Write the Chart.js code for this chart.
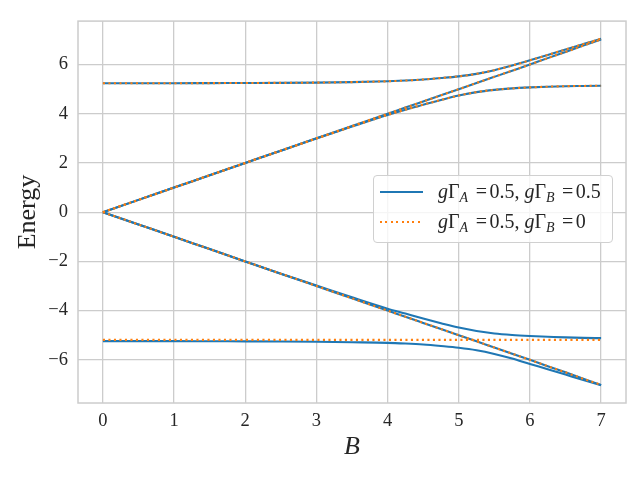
<!DOCTYPE html>
<html>
<head>
<meta charset="utf-8">
<script src="https://cdn.jsdelivr.net/npm/chart.js@4.4.1/dist/chart.umd.min.js"></script>
<style>
  body { margin: 0; background: #fff; }
  #wrap { position: relative; width: 640px; height: 480px; }
  #legend {
    position: absolute; left: 373px; top: 175px; width: 238px; height: 66px;
    border: 1px solid #d0d0d0; border-radius: 4px; background: rgba(255,255,255,0.8);
    font-family: 'Liberation Serif', 'Times New Roman', serif; font-size: 20px; color: #262626;
  }
  .swatch { position: absolute; left: 6px; width: 43px; height: 2px; }
  .solid { background: #1f77b4; }
  .dotted { background: repeating-linear-gradient(to right, #ff7f0e 0 2px, transparent 2px 5.4px); }
  .label { position: absolute; left: 64px; height: 22px; line-height: 22px; white-space: nowrap; }
  .sub { font-size: 0.7em; font-style: italic; position: relative; top: 0.25em; }
  .eq { margin: 0 0.12em 0 0.38em; }
</style>
</head>
<body>
<div id="wrap">
  <canvas id="energyChart" width="640" height="480"></canvas>
  <div id="legend">
    <div class="swatch solid" style="top: 15px;"></div>
    <div class="label" style="top: 4px;"><i>g</i>Γ<span class="sub">A</span><span class="eq">=</span>0.5, <i>g</i>Γ<span class="sub">B</span><span class="eq">=</span>0.5</div>
    <div class="swatch dotted" style="top: 45px;"></div>
    <div class="label" style="top: 34px;"><i>g</i>Γ<span class="sub">A</span><span class="eq">=</span>0.5, <i>g</i>Γ<span class="sub">B</span><span class="eq">=</span>0</div>
  </div>
</div>
<script>
const bField = [0, 0.5, 1, 1.5, 2, 2.5, 3, 3.5, 4, 4.25, 4.5, 4.75, 5, 5.25, 5.5, 5.75, 6, 6.25, 6.5, 6.75, 7];

// upper levels (same for both couplings)
const upperFlat = [5.24, 5.24, 5.24, 5.245, 5.25, 5.255, 5.265, 5.285, 5.32, 5.35, 5.39, 5.45, 5.52, 5.62, 5.77, 5.96, 6.17, 6.39, 6.61, 6.83, 7.05];
const upperLine = [0, 0.5, 1, 1.5, 2, 2.5, 3, 3.5, 4, 4.25, 4.5, 4.75, 5, 5.25, 5.5, 5.75, 6, 6.26, 6.51, 6.77, 7.02];
const upperBend = [0, 0.5, 1, 1.5, 2, 2.5, 2.99, 3.48, 3.95, 4.16, 4.37, 4.56, 4.74, 4.88, 4.97, 5.03, 5.07, 5.10, 5.12, 5.13, 5.14];

// lower levels
const lowerLine = [0, -0.5, -1, -1.5, -2, -2.5, -3, -3.5, -4, -4.25, -4.5, -4.75, -5, -5.25, -5.5, -5.75, -6, -6.26, -6.51, -6.77, -7.02];
const lowerBend = [0, -0.5, -1, -1.5, -2, -2.5, -2.98, -3.46, -3.92, -4.12, -4.32, -4.51, -4.69, -4.83, -4.93, -4.99, -5.03, -5.06, -5.09, -5.11, -5.12];
const lowerFlatBlue = [-5.24, -5.24, -5.24, -5.245, -5.25, -5.255, -5.265, -5.285, -5.31, -5.34, -5.38, -5.44, -5.51, -5.61, -5.76, -5.95, -6.17, -6.38, -6.60, -6.82, -7.03];
const lowerFlatOrange = [-5.19, -5.19, -5.19, -5.19, -5.19, -5.19, -5.19, -5.19, -5.19, -5.19, -5.19, -5.19, -5.19, -5.19, -5.19, -5.19, -5.19, -5.19, -5.19, -5.19, -5.19];

const xTicks = [0, 1, 2, 3, 4, 5, 6, 7];
const yTicks = [-6, -4, -2, 0, 2, 4, 6];

const blueCurves = [upperFlat, upperLine, upperBend, lowerLine, lowerBend, lowerFlatBlue];
const orangeCurves = [upperFlat, upperLine, upperBend, lowerLine, lowerFlatOrange];

function toPoints(values) {
  return bField.map((b, i) => ({ x: b, y: values[i] }));
}

const datasets = [];
blueCurves.forEach(c => datasets.push({
  data: toPoints(c),
  borderColor: '#1f77b4',
  borderWidth: 2.1,
  pointRadius: 0,
  cubicInterpolationMode: 'monotone',
  order: 2
}));
orangeCurves.forEach(c => datasets.push({
  data: toPoints(c),
  borderColor: '#ff7f0e',
  borderWidth: 2.1,
  borderDash: [2.1, 3.4],
  pointRadius: 0,
  cubicInterpolationMode: 'monotone',
  order: 1
}));

const framePlugin = {
  id: 'frame',
  beforeDatasetsDraw(chart) {
    const { ctx, chartArea } = chart;
    ctx.save();
    ctx.strokeStyle = '#cccccc';
    ctx.lineWidth = 1.5;
    ctx.strokeRect(chartArea.left, chartArea.top, chartArea.right - chartArea.left, chartArea.bottom - chartArea.top);
    ctx.restore();
  }
};

const fmt = v => (v < 0 ? '\u2212' + Math.abs(v) : String(v));
const serif = "'Liberation Serif', 'Times New Roman', serif";

new Chart(document.getElementById('energyChart'), {
  type: 'line',
  data: { datasets: datasets },
  plugins: [framePlugin],
  options: {
    responsive: false,
    animation: false,
    layout: { padding: { top: 15, right: 14, left: 0, bottom: 0 } },
    plugins: {
      legend: { display: false },
      tooltip: { enabled: false }
    },
    scales: {
      x: {
        type: 'linear',
        min: -0.35,
        max: 7.35,
        afterBuildTicks: s => { s.ticks = xTicks.map(v => ({ value: v })); },
        afterFit: s => { s.height = 77; },
        grid: { color: '#cccccc', lineWidth: 1.3, drawTicks: false },
        border: { display: false },
        ticks: { padding: 7, color: '#262626', font: { family: serif, size: 18.5 }, callback: fmt },
        title: { display: true, text: 'B', color: '#262626', padding: 17, font: { family: serif, size: 26, style: 'italic' } }
      },
      y: {
        min: -7.755,
        max: 7.765,
        afterBuildTicks: s => { s.ticks = yTicks.map(v => ({ value: v })); },
        afterFit: s => { s.width = 78; },
        grid: { color: '#cccccc', lineWidth: 1.3, drawTicks: false },
        border: { display: false },
        ticks: { padding: 10, color: '#262626', font: { family: serif, size: 18.5 }, callback: fmt },
        title: { display: true, text: 'Energy', color: '#262626', padding: 13, font: { family: serif, size: 26 } }
      }
    }
  }
});
</script>
</body>
</html>
